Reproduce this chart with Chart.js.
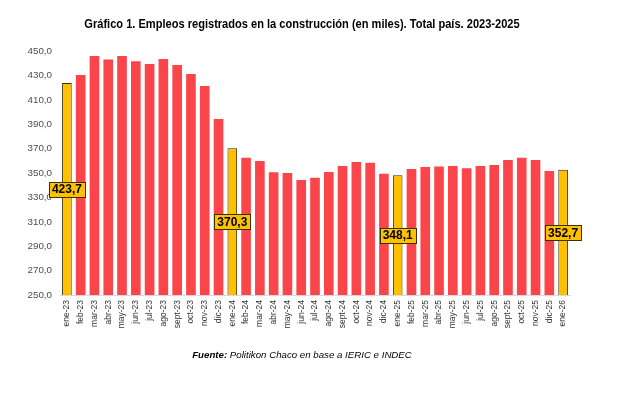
<!DOCTYPE html>
<html>
<head>
<meta charset="utf-8">
<script src="https://cdn.jsdelivr.net/npm/chart.js@4"></script>
<style>
html,body{margin:0;padding:0;background:#fff;}
#wrap{position:relative;width:622px;height:394px;}
#title{position:absolute;left:0;width:604px;top:16px;text-align:center;font:bold 13.5px 'Liberation Sans',Arial,sans-serif;color:#000;white-space:nowrap;transform:scaleX(0.82);transform-origin:302px 0;}
#foot{position:absolute;left:0;width:604px;top:349px;text-align:center;font:italic 9.7px 'Liberation Sans',Arial,sans-serif;color:#000;white-space:nowrap;}
canvas{position:absolute;left:0;top:0;}
</style>
</head>
<body>
<div id="wrap">
<canvas id="c" width="622" height="394"></canvas>
<div id="title">Gráfico 1. Empleos registrados en la construcción (en miles). Total país. 2023-2025</div>
<div id="foot"><b>Fuente:</b> Politikon Chaco en base a IERIC e INDEC</div>
</div>
<script>
const categories = ['ene-23','feb-23','mar-23','abr-23','may-23','jun-23','jul-23','ago-23','sept-23','oct-23','nov-23','dic-23',
  'ene-24','feb-24','mar-24','abr-24','may-24','jun-24','jul-24','ago-24','sept-24','oct-24','nov-24','dic-24',
  'ene-25','feb-25','mar-25','abr-25','may-25','jun-25','jul-25','ago-25','sept-25','oct-25','nov-25','dic-25','ene-26'];
const empleos = [423.7,430.4,446.0,443.0,446.0,441.6,439.4,443.5,438.6,431.2,421.4,394.3,
  370.3,362.4,359.9,350.6,350.1,344.3,346.2,350.9,355.8,359.1,358.3,349.3,
  348.1,353.3,355.0,355.3,355.8,353.9,355.8,356.6,360.7,362.4,360.7,351.7,352.7];
const highlighted = ['ene-23','ene-24','ene-25','ene-26'];
const yTicks = [250,270,290,310,330,350,370,390,410,430,450];

const RED = '#FA464A', YEL = '#FFC000', DARK = '#3A3000';
const fmt = v => v.toFixed(1).replace('.', ',');
const isHi = c => highlighted.includes(c);

const labelPlugin = {
  id: 'hiLabels',
  afterDatasetsDraw(chart) {
    const meta = chart.getDatasetMeta(0);
    const ctx = chart.ctx;
    const basePx = chart.scales.y.getPixelForValue(chart.scales.y.min);
    ctx.save();
    ctx.font = 'bold 12px "Liberation Sans", Arial, sans-serif';
    ctx.textAlign = 'center';
    ctx.textBaseline = 'middle';
    categories.forEach((c, i) => {
      if (!isHi(c)) return;
      const bar = meta.data[i];
      const cx = bar.x, cy = (bar.y + basePx) / 2;
      const t = fmt(empleos[i]);
      const w = Math.round(ctx.measureText(t).width + 6), h = 15;
      const x0 = Math.round(cx - w / 2), y0 = Math.round(cy - h / 2);
      ctx.fillStyle = YEL;
      ctx.fillRect(x0, y0, w, h);
      ctx.strokeStyle = DARK;
      ctx.lineWidth = 1;
      ctx.strokeRect(x0 + 0.5, y0 + 0.5, w, h);
      ctx.fillStyle = '#000';
      ctx.fillText(t, cx, cy + 1);
    });
    ctx.restore();
  }
};

new Chart(document.getElementById('c'), {
  type: 'bar',
  data: {
    labels: categories,
    datasets: [{
      data: empleos,
      backgroundColor: categories.map(c => isHi(c) ? YEL : RED),
      borderColor: categories.map(c => isHi(c) ? DARK : RED),
      borderWidth: categories.map(c => isHi(c) ? 1 : 0),
      categoryPercentage: 0.7,
      barPercentage: 1.0
    }]
  },
  options: {
    responsive: false,
    animation: false,
    layout: { padding: { top: 51, right: 52, bottom: 0, left: 0 } },
    plugins: { legend: { display: false }, tooltip: { enabled: false }, title: { display: false } },
    scales: {
      y: {
        min: 250, max: 450,
        afterBuildTicks(s) { s.ticks = yTicks.map(v => ({ value: v })); },
        afterFit(s) { s.width = 60; },
        grid: { display: false, drawTicks: false },
        border: { display: false },
        ticks: { padding: 8, color: '#4D4D4D', font: { size: 9.8, family: '"Liberation Sans", Arial, sans-serif' }, callback: v => fmt(v) }
      },
      x: {
        afterFit(s) { s.height = 99; },
        grid: { display: false, drawTicks: false },
        border: { display: true, color: '#D9D9D9' },
        ticks: { autoSkip: false, minRotation: 90, maxRotation: 90, padding: 5, color: '#333333',
          font: { size: 8.5, family: '"Liberation Sans", Arial, sans-serif' } }
      }
    }
  },
  plugins: [labelPlugin]
});
</script>
</body>
</html>
